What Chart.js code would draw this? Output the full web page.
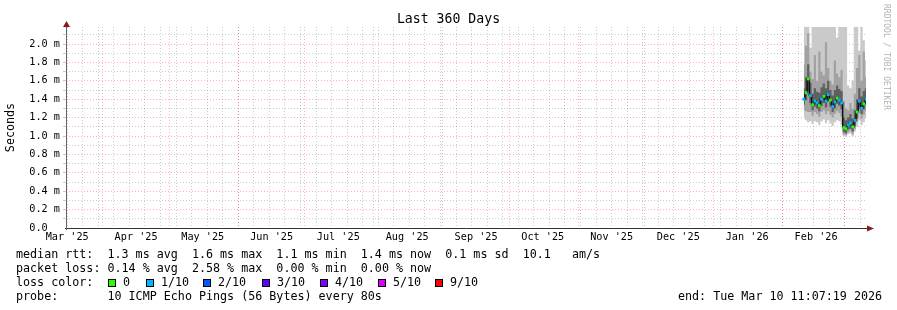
<!DOCTYPE html>
<html>
<head>
<meta charset="utf-8">
<script src="https://cdn.jsdelivr.net/npm/chart.js@4"></script>
<style>
html, body { margin: 0; padding: 0; background: #fff; }
#wrap { position: relative; width: 897px; height: 310px; overflow: hidden; font-family: 'DejaVu Sans Mono', monospace; color: #000; }
#wrap canvas { position: absolute; left: 0; top: 0; }
.txt { position: absolute; white-space: pre; font-size: 11.7px; line-height: 12px; }
.box { position: absolute; width: 6px; height: 6px; border: 1px solid #000; }
#title { position: absolute; left: 0; top: 12px; width: 897px; text-align: center; font-size: 13.2px; line-height: 14px; white-space: pre; }
#mark { position: absolute; left: 891px; top: 4px; transform-origin: 0 0; transform: rotate(90deg); font-size: 8px; line-height: 9px; color: #b4b4b4; white-space: pre; }
</style>
</head>
<body>
<div id="wrap">
  <canvas id="chart" width="897" height="310"></canvas>
  <div id="title">Last 360 Days</div>
  <div id="mark">RRDTOOL / TOBI OETIKER</div>
  <div id="legend"></div>
</div>
<script>
// days since the graph start (Mar 15 2025 11:07:19), one sample per day
const days = [332, 333, 334, 335, 336, 337, 338, 339, 340, 341, 342, 343, 344, 345, 346, 347, 348, 349, 350, 351, 352, 353, 354, 355, 356, 357, 358, 359, 360];

// values in ms
const median  = [1.40, 1.47, 1.62, 1.44, 1.34, 1.38, 1.36, 1.33, 1.40, 1.43, 1.38, 1.45, 1.39, 1.32, 1.37, 1.41, 1.39, 1.36, 1.09, 1.08, 1.12, 1.14, 1.10, 1.17, 1.26, 1.38, 1.30, 1.35, 1.40];
const smokeLo = [1.20, 1.17, 1.15, 1.16, 1.13, 1.16, 1.15, 1.12, 1.16, 1.18, 1.14, 1.17, 1.14, 1.11, 1.15, 1.17, 1.16, 1.12, 1.00, 0.99, 1.02, 1.03, 1.00, 1.05, 1.10, 1.17, 1.12, 1.15, 1.19];
const smokeHi = [2.20, 2.20, 2.20, 1.96, 2.20, 2.20, 2.20, 2.20, 2.20, 2.20, 2.20, 2.20, 2.20, 2.20, 2.20, 2.07, 2.20, 2.20, 2.20, 2.20, 1.55, 1.52, 1.60, 2.20, 2.20, 1.93, 2.20, 2.04, 1.82];
const midLo   = [1.28, 1.27, 1.26, 1.26, 1.22, 1.26, 1.24, 1.21, 1.26, 1.28, 1.24, 1.27, 1.23, 1.20, 1.24, 1.27, 1.25, 1.21, 1.02, 1.01, 1.04, 1.06, 1.02, 1.08, 1.15, 1.25, 1.19, 1.23, 1.27];
const midHi   = [1.78, 1.98, 2.12, 1.70, 1.62, 1.88, 1.60, 1.92, 1.70, 1.66, 2.02, 1.74, 1.60, 1.56, 1.82, 1.68, 1.64, 1.72, 1.38, 1.30, 1.28, 1.36, 1.30, 1.46, 1.74, 1.88, 1.60, 1.92, 1.64];
const darkLo  = [1.34, 1.39, 1.48, 1.36, 1.28, 1.32, 1.30, 1.27, 1.33, 1.36, 1.31, 1.38, 1.32, 1.26, 1.30, 1.35, 1.33, 1.29, 1.04, 1.03, 1.07, 1.08, 1.05, 1.11, 1.19, 1.31, 1.24, 1.29, 1.34];
const darkHi  = [1.52, 1.64, 1.78, 1.58, 1.46, 1.52, 1.48, 1.47, 1.53, 1.57, 1.52, 1.60, 1.50, 1.44, 1.50, 1.55, 1.51, 1.49, 1.20, 1.17, 1.20, 1.24, 1.19, 1.28, 1.40, 1.52, 1.43, 1.49, 1.52];
// index into lossColors for the marker on the median
const lossLevel = [1, 0, 0, 1, 0, 1, 1, 0, 1, 0, 1, 1, 0, 1, 1, 0, 1, 1, 0, 0, 1, 1, 0, 1, 0, 1, 1, 0, 1];

const lossColors = ['#26ff00', '#00b8ff', '#0059ff', '#5e00ff', '#7e00ff', '#dd00ff', '#ff0000'];
const lossLabels = ['0', '1/10', '2/10', '3/10', '4/10', '5/10', '9/10'];

const monthLabels = ["Mar '25", "Apr '25", "May '25", "Jun '25", "Jul '25", "Aug '25", "Sep '25", "Oct '25", "Nov '25", "Dec '25", "Jan '26", "Feb '26"];
const yTicks = [0, 0.1, 0.2, 0.3, 0.4, 0.5, 0.6, 0.7, 0.8, 0.9, 1.0, 1.1, 1.2, 1.3, 1.4, 1.5, 1.6, 1.7, 1.8, 1.9, 2.0, 2.1];

const START = Date.UTC(2025, 2, 15, 11, 7, 19);
const END = Date.UTC(2026, 2, 10, 11, 7, 19);
const DAY = 86400000;
const toDay = t => (t - START) / DAY;

const GRAY = 'rgba(0,0,0,0.2)';
const RED = 'rgba(255,0,0,0.3)';
const FONT = 'DejaVu Sans Mono';

function xTicks() {
    const list = [];
    for (let t = Date.UTC(2025, 2, 16); t < END; t += 7 * DAY) list.push({ value: toDay(t), kind: 'week' });
    for (let i = 1; i <= 12; i++) list.push({ value: toDay(Date.UTC(2025, 2 + i, 1)), kind: 'month' });
    monthLabels.forEach((lab, i) => list.push({ value: toDay(Date.UTC(2025, 2 + i, 16)), kind: 'label', text: lab }));
    list.sort((a, b) => a.value - b.value);
    return list;
}

function band(lo, hi, color, order) {
    return [
        { data: days.map((d, i) => ({ x: d, y: lo[i] })), borderColor: 'rgba(0,0,0,0)', borderWidth: 0, pointRadius: 0, fill: false, stepped: 'middle', order: order },
        { data: days.map((d, i) => ({ x: d, y: hi[i] })), borderColor: 'rgba(0,0,0,0)', borderWidth: 0, pointRadius: 0, fill: '-1', backgroundColor: color, stepped: 'middle', order: order }
    ];
}

const axisArrows = {
    id: 'axisArrows',
    afterDraw(chart) {
        const { ctx, chartArea: a } = chart;
        ctx.save();
        ctx.lineWidth = 1;
        ctx.strokeStyle = '#333';
        ctx.beginPath();
        ctx.moveTo(a.left - 1, a.bottom + 0.5);
        ctx.lineTo(a.right + 2, a.bottom + 0.5);
        ctx.stroke();
        ctx.strokeStyle = '#666';
        ctx.beginPath();
        ctx.moveTo(a.left + 0.5, a.bottom + 2);
        ctx.lineTo(a.left + 0.5, a.top - 1);
        ctx.stroke();
        ctx.fillStyle = '#8a1a1a';
        ctx.beginPath();
        ctx.moveTo(a.right + 8, a.bottom + 0.5);
        ctx.lineTo(a.right + 1, a.bottom - 2.5);
        ctx.lineTo(a.right + 1, a.bottom + 3.5);
        ctx.closePath();
        ctx.fill();
        ctx.beginPath();
        ctx.moveTo(a.left + 0.5, a.top - 6);
        ctx.lineTo(a.left - 3, a.top);
        ctx.lineTo(a.left + 4, a.top);
        ctx.closePath();
        ctx.fill();
        ctx.restore();
    }
};

new Chart(document.getElementById('chart'), {
    type: 'line',
    data: {
        datasets: [
            ...band(smokeLo, smokeHi, '#cacaca', 4),
            ...band(midLo, midHi, '#a2a2a2', 3),
            ...band(darkLo, darkHi, '#606060', 2),
            {
                data: days.map((d, i) => ({ x: d, y: median[i] })),
                borderColor: '#111',
                borderWidth: 1.5,
                stepped: 'middle',
                fill: false,
                pointStyle: 'rect',
                pointRadius: 2,
                pointBorderWidth: 0,
                pointBackgroundColor: lossLevel.map(l => lossColors[l]),
                order: 1
            }
        ]
    },
    options: {
        responsive: false,
        maintainAspectRatio: false,
        devicePixelRatio: 1,
        animation: false,
        events: [],
        layout: { padding: { left: 0, right: 31, top: 27, bottom: 52 } },
        plugins: { legend: { display: false }, tooltip: { enabled: false } },
        scales: {
            x: {
                type: 'linear',
                bounds: 'data',
                min: 0,
                max: 360,
                z: 1,
                afterBuildTicks: s => { s.ticks = xTicks(); },
                afterFit: s => { s.height = 30; },
                ticks: {
                    autoSkip: false,
                    maxRotation: 0,
                    minRotation: 0,
                    padding: 3,
                    color: '#000',
                    font: { family: FONT, size: 10.2 },
                    callback: (v, i, ticks) => ticks[i].text || ''
                },
                grid: {
                    drawTicks: false,
                    lineWidth: 1,
                    color: c => c.tick && c.tick.kind === 'month' ? RED : (c.tick && c.tick.kind === 'week' ? GRAY : 'rgba(0,0,0,0)')
                },
                border: { display: false, dash: [1, 2] }
            },
            y: {
                type: 'linear',
                bounds: 'data',
                min: 0,
                max: 2.185,
                z: 1,
                afterBuildTicks: s => { s.ticks = yTicks.map(v => ({ value: v })); },
                afterFit: s => { s.width = 66; },
                ticks: {
                    autoSkip: false,
                    padding: 3,
                    color: '#000',
                    font: { family: FONT, size: 10.2 },
                    callback: v => {
                        const n = Math.round(v * 10);
                        if (n === 0) return '0.0  ';
                        return n % 2 === 0 ? v.toFixed(1) + ' m' : '';
                    }
                },
                grid: {
                    drawTicks: true,
                    tickLength: 3,
                    lineWidth: 1,
                    color: c => {
                        const n = c.tick ? Math.round(c.tick.value * 10) : 0;
                        if (n === 0) return 'rgba(0,0,0,0)';
                        return n % 2 === 0 ? RED : GRAY;
                    }
                },
                border: { display: false, dash: [1, 2] },
                title: {
                    display: true,
                    text: 'Seconds',
                    color: '#000',
                    font: { family: FONT, size: 11.7 },
                    padding: { top: 4, bottom: 0 }
                }
            }
        }
    },
    plugins: [axisArrows]
});

// legend block under the graph
const legend = document.getElementById('legend');
function addText(str, left, top) {
    const el = document.createElement('div');
    el.className = 'txt';
    el.style.left = left + 'px';
    el.style.top = top + 'px';
    el.textContent = str;
    legend.appendChild(el);
}
addText('median rtt:  1.3 ms avg  1.6 ms max  1.1 ms min  1.4 ms now  0.1 ms sd  10.1   am/s', 16, 248);
addText('packet loss: 0.14 % avg  2.58 % max  0.00 % min  0.00 % now', 16, 262);
addText('loss color:', 16, 276);
const boxX = [108, 146, 203, 262, 320, 378, 435];
lossColors.forEach((col, i) => {
    const b = document.createElement('div');
    b.className = 'box';
    b.style.left = boxX[i] + 'px';
    b.style.top = '279px';
    b.style.background = col;
    legend.appendChild(b);
    addText(lossLabels[i], boxX[i] + 15, 276);
});
addText('probe:       10 ICMP Echo Pings (56 Bytes) every 80s', 16, 290);
addText('end: Tue Mar 10 11:07:19 2026', 678, 290);
</script>
</body>
</html>
